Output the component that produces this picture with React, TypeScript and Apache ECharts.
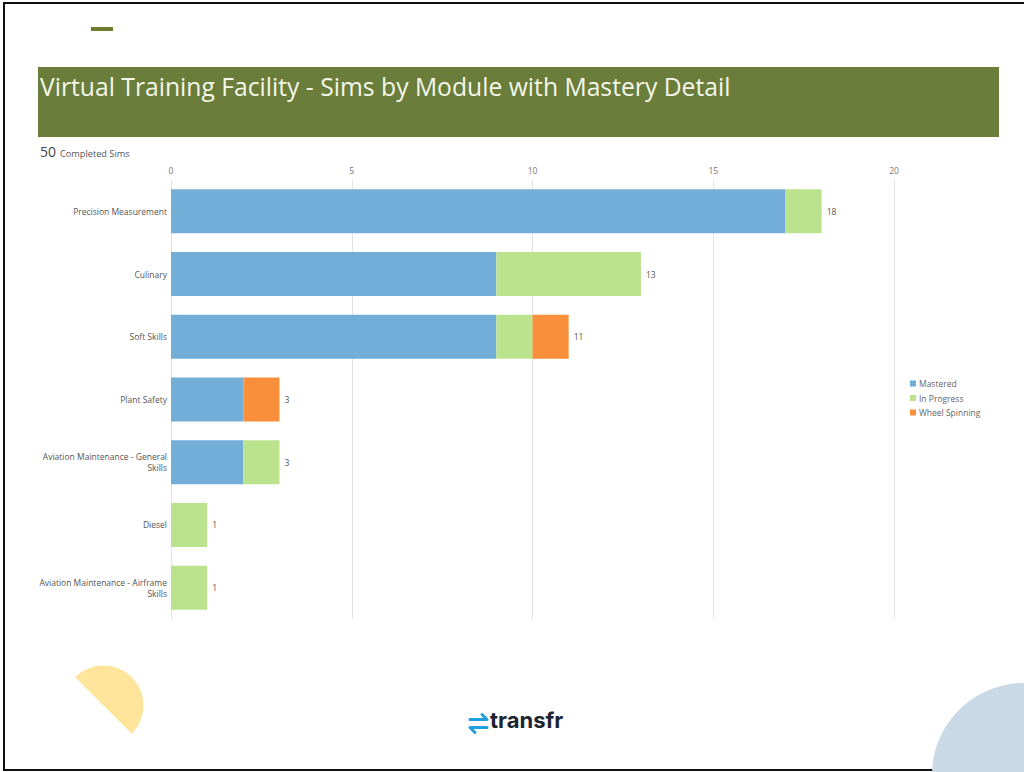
import React, { useEffect, useRef } from "react";
import * as echarts from "echarts";

const categories = [
  "Precision Measurement",
  "Culinary",
  "Soft Skills",
  "Plant Safety",
  "Aviation Maintenance - General Skills",
  "Diesel",
  "Aviation Maintenance - Airframe Skills",
];
const mastered = [17, 9, 9, 2, 2, 0, 0];
const inProgress = [1, 4, 1, 0, 1, 1, 1];
const wheelSpinning = [0, 0, 1, 1, 0, 0, 0];
const xTicks = [0, 5, 10, 15, 20];
const completedTotal = 50;

const totals = categories.map((_, i) => mastered[i] + inProgress[i] + wheelSpinning[i]);

const labelMap: Record<string, string> = {
  "Aviation Maintenance - General Skills": "Aviation Maintenance - General\nSkills",
  "Aviation Maintenance - Airframe Skills": "Aviation Maintenance - Airframe\nSkills",
};

export default function App() {
  const ref = useRef<HTMLDivElement>(null);
  useEffect(() => {
    if (!ref.current) return;
    const chart = echarts.init(ref.current, null, { renderer: "svg" });
    const font = "'Open Sans', 'Noto Sans', sans-serif";
    const zeroOr = (arr: number[]) => arr.map((v) => (v === 0 ? null : v));
    chart.setOption({
      animation: false,
      backgroundColor: "#ffffff",
      textStyle: { fontFamily: font },
      grid: { left: 171, right: 130, top: 180, bottom: 153, containLabel: false },
      legend: {
        orient: "vertical",
        left: 910,
        top: 379,
        padding: 0,
        icon: "rect",
        itemWidth: 6,
        itemHeight: 6,
        itemGap: 5.5,
        data: ["Mastered", "In Progress", "Wheel Spinning"],
        textStyle: { fontSize: 8.5, color: "#666", fontFamily: font, padding: [0, 0, 0, -2] },
      },
      xAxis: {
        type: "value",
        position: "top",
        min: 0,
        max: xTicks[xTicks.length - 1],
        interval: xTicks[1] - xTicks[0],
        axisLine: { show: false },
        axisTick: { show: false },
        axisLabel: { color: "#777", fontSize: 8.5, margin: 5, fontFamily: font },
        splitLine: { show: true, lineStyle: { color: "#e4e4e4", width: 1 } },
      },
      yAxis: {
        type: "category",
        inverse: true,
        data: categories,
        axisLine: { show: false },
        axisTick: { show: false },
        axisLabel: {
          color: "#555",
          fontSize: 8.5,
          margin: 4,
          lineHeight: 11,
          fontFamily: font,
          formatter: (v: string) => labelMap[v] || v,
        },
      },
      series: [
        {
          name: "Mastered",
          type: "bar",
          stack: "t",
          barWidth: 44,
          itemStyle: { color: "#73aed8" },
          data: zeroOr(mastered),
        },
        {
          name: "In Progress",
          type: "bar",
          stack: "t",
          barWidth: 44,
          itemStyle: { color: "#bbe38e" },
          data: zeroOr(inProgress),
        },
        {
          name: "Wheel Spinning",
          type: "bar",
          stack: "t",
          barWidth: 44,
          itemStyle: { color: "#f98f3a" },
          data: zeroOr(wheelSpinning),
        },
        {
          name: "Total",
          type: "bar",
          stack: "t",
          barWidth: 44,
          itemStyle: { color: "transparent" },
          data: totals.map(() => 0),
          label: {
            show: true,
            position: "right",
            distance: 5,
            color: "#555",
            fontSize: 8.5,
            fontFamily: font,
            formatter: (p: any) => String(totals[p.dataIndex]),
          },
          tooltip: { show: false },
        },
      ],
      graphic: [
        {
          type: "rect",
          silent: true,
          z: -10,
          shape: { x: 4, y: 3, width: 1030, height: 767 },
          style: { fill: "none", stroke: "#111", lineWidth: 2 },
        },
        {
          type: "rect",
          shape: { x: 91, y: 27, width: 22, height: 4 },
          style: { fill: "#707b2f" },
        },
        {
          type: "rect",
          shape: { x: 38, y: 67, width: 961, height: 70 },
          style: { fill: "#6a7d3a" },
        },
        {
          type: "text",
          left: 40,
          top: 74,
          style: {
            text: "Virtual Training Facility - Sims by Module with Mastery Detail",
            fill: "#f4f6ea",
            fontSize: 24.7,
            fontFamily: font,
          },
        },
        {
          type: "text",
          left: 40,
          top: 144,
          style: { text: String(completedTotal), fill: "#444", fontSize: 14, fontFamily: font },
        },
        {
          type: "text",
          left: 60,
          top: 149,
          style: { text: "Completed Sims", fill: "#555", fontSize: 9.2, fontFamily: font },
        },
        {
          type: "sector",
          shape: { cx: 103.5, cy: 705.5, r: 40, startAngle: (5 * Math.PI) / 4, endAngle: (9 * Math.PI) / 4, clockwise: true },
          style: { fill: "#fee59b" },
        },
        {
          type: "circle",
          z: -5,
          shape: { cx: 1024, cy: 775, r: 92 },
          style: { fill: "#c9d9e6" },
        },
        {
          type: "polyline",
          shape: { points: [[470, 719.5], [487, 719.5], [482, 714.5]] },
          style: { stroke: "#1e9fe0", lineWidth: 3, fill: "none", lineCap: "round", lineJoin: "round" },
        },
        {
          type: "polyline",
          shape: { points: [[487, 727.5], [470, 727.5], [475, 732.5]] },
          style: { stroke: "#1e9fe0", lineWidth: 3, fill: "none", lineCap: "round", lineJoin: "round" },
        },
        {
          type: "text",
          left: 490,
          top: 709,
          style: { text: "transfr", fill: "#1b2431", fontSize: 22, fontWeight: "bold", fontFamily: "Inter, 'Noto Sans', sans-serif" },
        },
      ],
    });
    return () => chart.dispose();
  }, []);
  return (
    <div
      ref={ref}
      style={{ position: "fixed", left: 0, top: 0, width: 1024, height: 772 }}
    />
  );
}
